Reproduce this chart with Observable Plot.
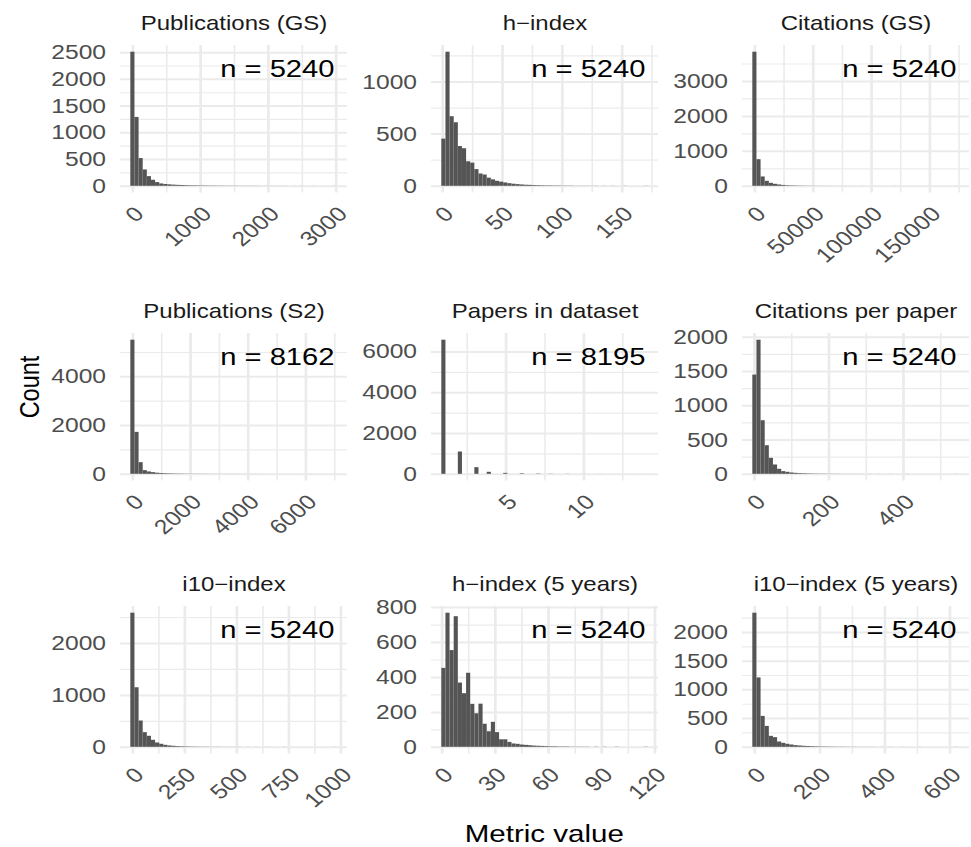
<!DOCTYPE html>
<html>
<head>
<meta charset="utf-8">
<script src="https://cdn.jsdelivr.net/npm/d3@7"></script>
<script src="https://cdn.jsdelivr.net/npm/@observablehq/plot@0.6"></script>
<style>
html, body { margin: 0; padding: 0; background: #ffffff; }
#chart { position: relative; width: 971px; height: 847px; overflow: hidden; background: #ffffff; font-family: "Liberation Sans", Arial, Helvetica, sans-serif; }
#chart svg { position: absolute; overflow: visible; }
</style>
</head>
<body>
<div id="chart"></div>
<script>
// ---------------- data ----------------
const nBins = 50;
const titles = ["Publications (GS)", "h\u2212index", "Citations (GS)",
                "Publications (S2)", "Papers in dataset", "Citations per paper",
                "i10\u2212index", "h\u2212index (5 years)", "i10\u2212index (5 years)"];
const nValues = [5240, 5240, 5240, 8162, 8195, 5240, 5240, 5240, 5240];
const dataMin = [0, 1, 0, 0, 1, 1, 0, 1, 0];
const dataMax = [2984, 170, 173300, 7012, 14, 544, 972, 115, 622];

const xBreaks = [[0, 1000, 2000, 3000], [0, 50, 100, 150], [0, 50000, 100000, 150000],
                 [0, 2000, 4000, 6000], [5, 10], [0, 200, 400],
                 [0, 250, 500, 750, 1000], [0, 30, 60, 90, 120], [0, 200, 400, 600]];
const yBreaks = [[0, 500, 1000, 1500, 2000, 2500], [0, 500, 1000], [0, 1000, 2000, 3000],
                 [0, 2000, 4000], [0, 2000, 4000, 6000], [0, 500, 1000, 1500, 2000],
                 [0, 1000, 2000], [0, 200, 400, 600, 800], [0, 500, 1000, 1500, 2000]];

const countsPubGS = [2508,1288,519,306,181,113,69,44,34,27, 22,18,15,12,10,9,8,7,6,5, 5,4,4,3,3,3,2,2,2,2, 2,1,1,1,1,1,1,1,0,1, 0,1,0,0,1,0,0,0,0,1];
const countsHIndex = [452,1285,667,609,381,360,235,222,160,118, 108,78,62,48,40,32,25,20,16,13, 10,9,7,6,5,4,4,3,3,2, 2,2,1,1,1,1,1,1,0,1, 0,1,0,0,1,0,0,0,0,1];
const countsCitGS = [3838,762,267,143,86,57,38,25,16,12, 9,7,5,4,3,3,2,2,1,1, 1,1,1,0,1,0,1,0,0,1, 0,0,0,0,1,0,0,0,0,0, 0,0,0,0,0,0,0,0,0,1];
const countsPubS2 = [5505,1721,478,150,96,68,45,33,25,19, 15,12,10,8,7,6,5,4,4,3, 3,3,2,2,2,2,1,1,1,1, 1,1,1,0,1,0,1,0,0,1, 0,0,0,1,0,0,0,0,0,1];
const countsPapers = [6572,0,0,0,1093,0,0,0,326,0, 0,98,0,0,0,45,0,0,0,25, 0,0,0,15,0,0,8,0,0,0, 5,0,0,0,3,0,0,0,2,0, 0,1,0,0,0,1,0,0,0,1];
const countsCitPerPaper = [1447,1956,782,417,233,136,73,39,29,19, 14,10,8,6,5,4,3,3,2,2, 2,1,1,1,1,1,1,0,1,0, 1,0,0,1,0,0,0,1,0,0, 0,0,0,0,0,0,0,0,0,1];
const countsI10 = [2583,1147,506,282,212,135,83,58,38,26, 19,13,10,8,6,5,4,3,3,2, 2,2,1,1,1,1,1,0,1,0, 1,0,0,1,0,0,0,1,0,0, 0,0,0,0,0,0,0,0,0,1];
const countsH5 = [452,768,554,748,368,307,424,246,192,247, 132,89,143,84,43,43,28,19,17,13, 11,9,7,6,5,4,3,3,2,2, 2,1,1,1,1,1,0,1,0,1, 0,0,1,0,0,0,0,0,0,1];
const countsI10_5 = [2335,1208,538,364,191,168,92,69,52,40, 29,23,17,14,11,9,7,6,5,4, 3,3,2,2,2,1,1,1,1,1, 0,1,0,1,0,0,1,0,0,0, 1,0,0,0,0,0,0,0,0,1];
const allCounts = [countsPubGS, countsHIndex, countsCitGS, countsPubS2, countsPapers,
                   countsCitPerPaper, countsI10, countsH5, countsI10_5];

// ---------------- layout ----------------
const colLeft = [119.5, 431, 741.7];
const rowTop = [44.8, 333.3, 606];
const PW = 227, PH = 147.5;
const ML = 100, MR = 14, MT = 50, MB = 95;
const S = 1.2; // horizontal glyph stretch of the reference
const FONT = "'Liberation Sans', Arial, Helvetica, sans-serif";
const tickSize = 20.5, stripSize = 20, nSize = 24.3;
const gridColor = "#EBEBEB";

function minorBreaks(br, dom) {
  const step = br.length > 1 ? br[1] - br[0] : br[0];
  const all = [br[0] - step / 2, ...br.slice(1).map((b, i) => (b + br[i]) / 2), br[br.length - 1] + step / 2];
  return all.filter(v => v >= dom[0] && v <= dom[1]);
}

function stretchText(svg, s) {
  svg.querySelectorAll("text").forEach(t => {
    let e = 0, f = 0;
    const tl = t.transform && t.transform.baseVal;
    if (tl && tl.numberOfItems) { const m = tl.consolidate().matrix; e = m.e; f = m.f; }
    else { e = +(t.getAttribute("x") || 0); f = +(t.getAttribute("y") || 0); }
    const g = document.createElementNS("http://www.w3.org/2000/svg", "g");
    g.setAttribute("transform", `translate(${e},${f}) scale(${s},1) translate(${-e},${-f})`);
    t.parentNode.insertBefore(g, t);
    g.appendChild(t);
  });
}

const chart = document.getElementById("chart");

// axis titles
const over = d3.create("svg").attr("width", 971).attr("height", 847)
  .style("left", "0px").style("top", "0px")
  .attr("font-family", FONT);
over.append("text").attr("transform", "translate(39,387) rotate(-90)")
  .attr("text-anchor", "middle").attr("font-size", 23.5).attr("fill", "#000").text("Count");
over.append("text").attr("transform", "translate(544.3,842)")
  .attr("text-anchor", "middle").attr("font-size", 24.6).attr("fill", "#000").text("Metric value");
chart.appendChild(over.node());
stretchText(over.node(), S);

allCounts.forEach((counts, i) => {
  const w = (dataMax[i] - dataMin[i]) / (nBins - 1);
  const bins = counts.map((c, k) => ({
    x1: dataMin[i] + (k - 0.5) * w,
    x2: dataMin[i] + (k + 0.5) * w,
    count: c
  })).filter(d => d.count > 0);
  const maxC = d3.max(counts);
  const xDom = [dataMin[i] - 3 * w, dataMax[i] + 3 * w];
  const yDom = [-0.05 * maxC, 1.05 * maxC];
  const col = i % 3, row = Math.floor(i / 3);

  const svg = Plot.plot({
    width: ML + PW + MR,
    height: MT + PH + MB,
    marginLeft: ML, marginRight: MR, marginTop: MT, marginBottom: MB,
    x: {domain: xDom},
    y: {domain: yDom},
    style: {fontFamily: FONT, background: "transparent", overflow: "visible"},
    marks: [
      Plot.gridX(minorBreaks(xBreaks[i], xDom), {stroke: gridColor, strokeOpacity: 1, strokeWidth: 1.6}),
      Plot.gridY(minorBreaks(yBreaks[i], yDom), {stroke: gridColor, strokeOpacity: 1, strokeWidth: 1.2}),
      Plot.gridX(xBreaks[i], {stroke: gridColor, strokeOpacity: 1, strokeWidth: 2.7}),
      Plot.gridY(yBreaks[i], {stroke: gridColor, strokeOpacity: 1, strokeWidth: 2.0}),
      Plot.rectY(bins, {x1: "x1", x2: "x2", y: "count", fill: "#555555"}),
      Plot.axisX(xBreaks[i], {tickRotate: -45, tickSize: 0, tickPadding: 12, textAnchor: "end", lineAnchor: "top",
        fontSize: tickSize, color: "#4D4D4D", tickFormat: d => `${d}`, label: null}),
      Plot.axisY(yBreaks[i], {tickSize: 0, tickPadding: 14.5, fontSize: tickSize, color: "#4D4D4D",
        tickFormat: d => `${d}`, label: null}),
      Plot.text([titles[i]], {text: d => d, frameAnchor: "top", dy: -15.5, lineAnchor: "bottom",
        fontSize: stripSize, fill: "#1A1A1A"}),
      Plot.text([`n = ${nValues[i]}`], {text: d => d, frameAnchor: "top-right", dx: -13, dy: 14.5,
        lineAnchor: "top", textAnchor: "end", fontSize: nSize, fill: "#000000"})
    ]
  });
  svg.style.left = (colLeft[col] - ML) + "px";
  svg.style.top = (rowTop[row] - MT) + "px";
  chart.appendChild(svg);
  stretchText(svg, S);
});
</script>
</body>
</html>
